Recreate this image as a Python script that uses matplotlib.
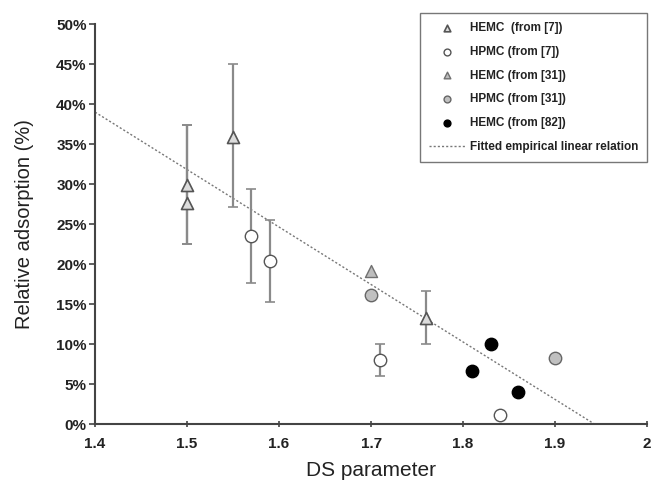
import matplotlib
matplotlib.use("Agg")
import matplotlib.pyplot as plt
from matplotlib.ticker import FuncFormatter

plt.rcParams['font.family'] = ['Liberation Sans', 'DejaVu Sans']

# Data (DS parameter, relative adsorption %)
hemc7_x = [1.50, 1.50, 1.55, 1.76]
hemc7_y = [29.9, 27.6, 35.9, 13.3]
hemc7_lo = [22.5, 22.5, 27.1, 10.0]
hemc7_hi = [37.4, 37.4, 45.0, 16.7]

hpmc7_x = [1.57, 1.59, 1.71, 1.84]
hpmc7_y = [23.5, 20.4, 8.0, 1.2]
hpmc7_lo = [17.6, 15.3, 6.0, 1.2]
hpmc7_hi = [29.4, 25.5, 10.0, 1.2]

hemc31_x = [1.70]
hemc31_y = [19.2]

hpmc31_x = [1.70, 1.90]
hpmc31_y = [16.1, 8.3]

hemc82_x = [1.81, 1.83, 1.86]
hemc82_y = [6.7, 10.0, 4.0]

fit_x = [1.40, 1.943]
fit_y = [39.0, 0.0]

x_ticks = [1.4, 1.5, 1.6, 1.7, 1.8, 1.9, 2.0]
x_tick_labels = ['1.4', '1.5', '1.6', '1.7', '1.8', '1.9', '2']
y_ticks = [0, 5, 10, 15, 20, 25, 30, 35, 40, 45, 50]

fig = plt.figure(figsize=(6.51, 4.82), dpi=100)
ax = fig.add_axes([0.146, 0.120, 0.848, 0.830])

ecol = '#8a8a8a'
def ebar(xs, ys, lo, hi):
    yerr = [[y - l for y, l in zip(ys, lo)], [h - y for y, h in zip(ys, hi)]]
    ax.errorbar(xs, ys, yerr=yerr, fmt='none', ecolor=ecol, elinewidth=1.6,
                capsize=3.5, capthick=1.2, zorder=2)

ebar(hemc7_x, hemc7_y, hemc7_lo, hemc7_hi)
ebar(hpmc7_x, hpmc7_y, hpmc7_lo, hpmc7_hi)

fit_line, = ax.plot(fit_x, fit_y, linestyle=(0, (1.5, 1.5)), color='#777777',
                    linewidth=1.0, zorder=1, label='Fitted empirical linear relation')

h1 = ax.scatter(hemc7_x, hemc7_y, marker='^', s=75, facecolor='#dcdcdc',
                edgecolor='#555555', linewidth=1.2, zorder=3, label='HEMC  (from [7])')
h2 = ax.scatter(hpmc7_x, hpmc7_y, marker='o', s=80, facecolor='white',
                edgecolor='#555555', linewidth=1.0, zorder=3, label='HPMC (from [7])')
h3 = ax.scatter(hemc31_x, hemc31_y, marker='^', s=75, facecolor='#bdbdbd',
                edgecolor='#707070', linewidth=1.0, zorder=3, label='HEMC (from [31])')
h4 = ax.scatter(hpmc31_x, hpmc31_y, marker='o', s=80, facecolor='#c0c0c0',
                edgecolor='#666666', linewidth=1.0, zorder=3, label='HPMC (from [31])')
h5 = ax.scatter(hemc82_x, hemc82_y, marker='o', s=80, facecolor='black',
                edgecolor='black', linewidth=1.0, zorder=3, label='HEMC (from [82])')

ax.set_xlim(1.4, 2.0)
ax.set_ylim(0, 50)
ax.set_xticks(x_ticks)
ax.set_xticklabels(x_tick_labels)
ax.set_yticks(y_ticks)
ax.yaxis.set_major_formatter(FuncFormatter(lambda v, p: f'{int(v)}%'))

for s in ['top', 'right']:
    ax.spines[s].set_visible(False)
for s in ['left', 'bottom']:
    ax.spines[s].set_color('#444444')
    ax.spines[s].set_linewidth(1.5)

ax.tick_params(axis='y', direction='out', length=4, width=1.2, color='#444444',
               labelsize=11, pad=2)
ax.tick_params(axis='x', direction='inout', length=5, width=1.2, color='#444444',
               labelsize=11, pad=7)
for lab in ax.get_xticklabels() + ax.get_yticklabels():
    lab.set_fontweight('bold')
    lab.set_color('#222222')

ax.set_xlabel('DS parameter', fontsize=15, color='#222222', labelpad=7)
ax.set_ylabel('Relative adsorption (%)', fontsize=14.5, color='#222222', labelpad=16)

leg = ax.legend(handles=[h1, h2, h3, h4, h5, fit_line], loc='upper right',
                bbox_to_anchor=(1.0, 1.0 + 11/398), bbox_transform=ax.transAxes,
                fontsize=8.5, frameon=True, fancybox=False, labelspacing=1.0,
                handlelength=3.2, handletextpad=0.3, borderpad=0.75,
                markerscale=0.55, borderaxespad=0)
leg.get_frame().set_edgecolor('#555555')
leg.get_frame().set_linewidth(1.0)
for t in leg.get_texts():
    t.set_fontweight('bold')
    t.set_color('#222222')

fig.savefig('out.png', dpi=100)
